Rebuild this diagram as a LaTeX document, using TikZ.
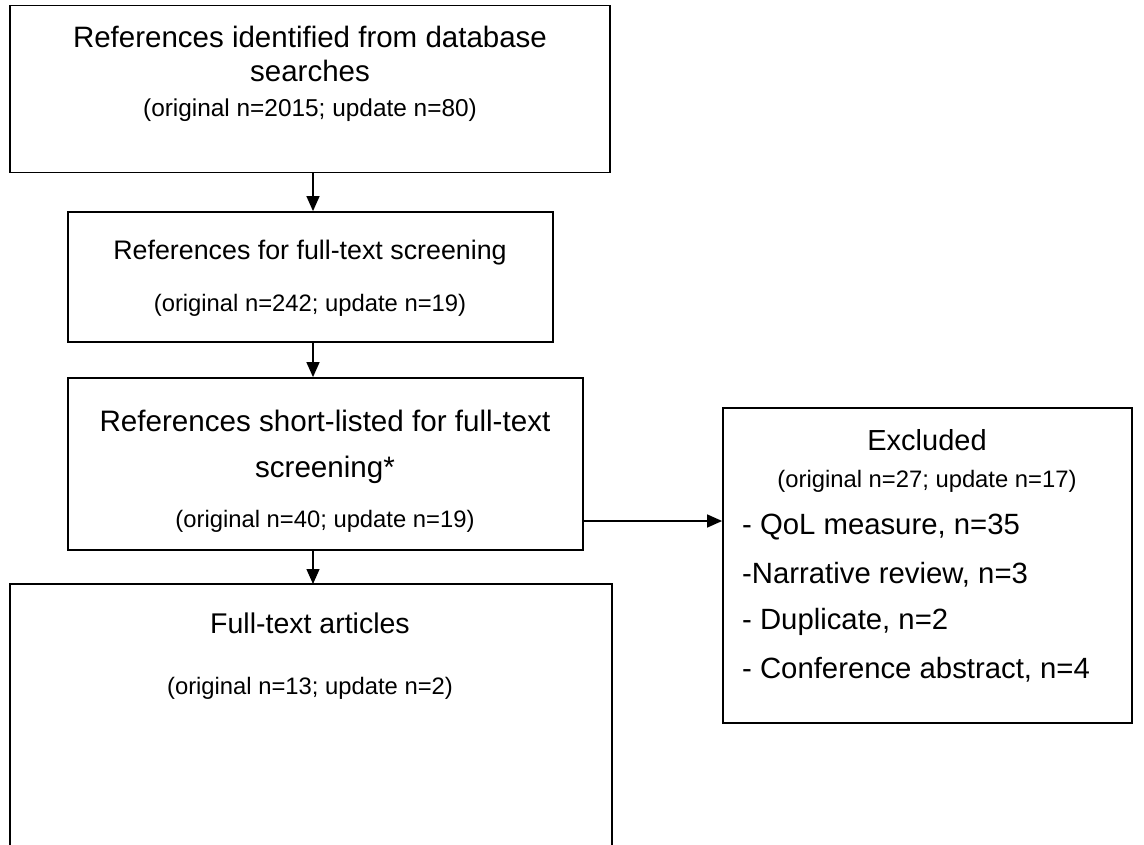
\documentclass[tikz,border=0pt]{standalone}
\usepackage{fontspec}
\setmainfont{Liberation Sans}
\usetikzlibrary{arrows.meta}
\begin{document}
\begin{tikzpicture}[x=1pt,y=-1pt,
  box/.style={draw=black,line width=1.8pt,inner sep=0pt},
  arr/.style={line width=1.4pt,-{Triangle[length=15pt,width=13pt]}},
  big/.style={font=\fontsize{28.5}{33}\selectfont,inner sep=0pt},
  small/.style={font=\fontsize{23.8}{28}\selectfont,inner sep=0pt},
  item/.style={font=\fontsize{29.3}{34}\selectfont,inner sep=0pt,anchor=west}]
\useasboundingbox (0,0) rectangle (1144,845);
% boxes
\node[box,minimum width=600pt,minimum height=167pt] (b1) at (310,89) {};
\node[box,minimum width=485pt,minimum height=130pt] (b2) at (310.5,277) {};
\node[box,minimum width=515pt,minimum height=172pt] (b3) at (325.5,464) {};
\node[box,minimum width=409pt,minimum height=315pt] (b5) at (927.5,565.5) {};
% last box runs off the bottom edge: open at the bottom
\coordinate (b4sw) at (10,850);
\coordinate (b4ne) at (612,584);
\draw[line width=1.8pt] (b4sw) |- (b4ne) -- (b4ne |- b4sw);
\coordinate (b4n) at (313,584);
% texts
\node[big,font=\fontsize{29.5}{34}\selectfont] (t1a) at (310,37) {References identified from database};
\node[big,font=\fontsize{29.5}{34}\selectfont] (t1b) at (310,71) {searches};
\node[small,font=\fontsize{24.4}{28}\selectfont] (t1c) at (310,110) {(original n=2015; update n=80)};
\node[big,font=\fontsize{26.8}{32}\selectfont] (t2a) at (310,253) {References for full-text screening};
\node[small] (t2b) at (310,305) {(original n=242; update n=19)};
\node[big,font=\fontsize{29.6}{34}\selectfont] (t3a) at (325,421) {References short-listed for full-text};
\node[big,font=\fontsize{29.6}{34}\selectfont] (t3b) at (325,470) {screening*};
\node[small] (t3c) at (325,521) {(original n=40; update n=19)};
\node[big] (t4a) at (310,623) {Full-text articles};
\node[small] (t4b) at (310,688) {(original n=13; update n=2)};
\node[big,font=\fontsize{29}{34}\selectfont] (t5a) at (927,440) {Excluded};
\node[small] (t5b) at (927,481) {(original n=27; update n=17)};
\node[item] (t5c) at (742,527) {- QoL measure, n=35};
\node[item] (t5d) at (742,575) {-Narrative review, n=3};
\node[item] (t5e) at (742,622) {- Duplicate, n=2};
\node[item] (t5f) at (742,670) {- Conference abstract, n=4};
% connectors
\coordinate (ax) at (313,0);
\coordinate (ay) at (0,521);
\draw[arr] (b1.south -| ax) -- (b2.north -| ax);
\draw[arr] (b2.south -| ax) -- (b3.north -| ax);
\draw[arr] (b3.south -| ax) -- (b4n);
\draw[arr] (b3.east |- ay) -- (b5.west |- ay);
\end{tikzpicture}
\end{document}
